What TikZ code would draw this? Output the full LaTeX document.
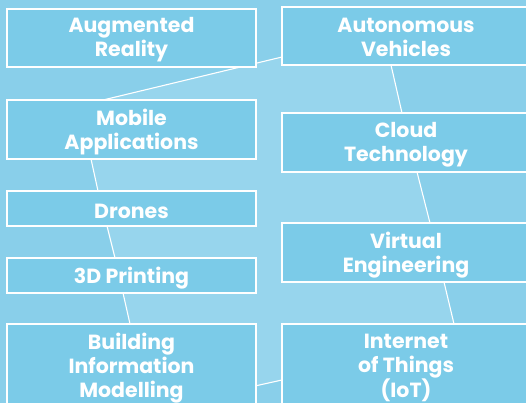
\documentclass[tikz,border=0pt]{standalone}
\usepackage{fontspec}
\setmainfont{Poppins}
\usetikzlibrary{calc}
\definecolor{bgout}{HTML}{89CFEA}
\definecolor{bgin}{HTML}{97D5ED}
\definecolor{boxfill}{HTML}{7BCBE8}
\tikzset{
  techbox/.style={draw=white, line width=1.3pt, fill=boxfill, rectangle, inner sep=0pt,
    text=white, align=center, font=\fontsize{20.5}{24}\selectfont\bfseries},
  link/.style={draw=white, line width=1.1pt}
}
\begin{document}
\begin{tikzpicture}[x=1pt,y=-1pt]
\useasboundingbox (0,0) rectangle (526,403);
\clip (0,0) rectangle (526,403);
\fill[bgout] (0,0) rectangle (526,403);
% connector end points
\coordinate (p1) at (103,100);
\coordinate (p2) at (282,57);
\coordinate (p3) at (391,65);
\coordinate (p4) at (402,113);
\coordinate (p5) at (417,172);
\coordinate (p6) at (430,223);
\coordinate (p7) at (444,282);
\coordinate (p8) at (454,324);
\coordinate (p9) at (282,380);
\coordinate (p10) at (255,386);
\coordinate (p11) at (130,324);
\coordinate (p12) at (123,293);
\coordinate (p13) at (115,258);
\coordinate (p14) at (107,226);
\coordinate (p15) at (98,191);
\coordinate (p16) at (91,159);
\fill[bgin] (p1) -- (p2) -- (p3) -- (p4) -- (p5) -- (p6) -- (p7) -- (p8) -- (454,380) -- (p9) -- (p10) -- (130,386) -- (p11) -- (p12) -- (p13) -- (p14) -- (p15) -- (p16) -- (91,100) -- cycle;
\draw[link] (p1) -- (p2);
\draw[link] (p3) -- (p4);
\draw[link] (p5) -- (p6);
\draw[link] (p7) -- (p8);
\draw[link] (p9) -- (p10);
\draw[link] (p11) -- (p12);
\draw[link] (p13) -- (p14);
\draw[link] (p15) -- (p16);
% boxes
\node[techbox, minimum width=249pt, minimum height=58pt] (ar) at (131.5,38) {};
\node[techbox, minimum width=249pt, minimum height=59pt] (ma) at (131.5,129.5) {};
\node[techbox, minimum width=249pt, minimum height=35pt] (dr) at (131.5,208.5) {};
\node[techbox, minimum width=249pt, minimum height=35pt] (dp) at (131.5,275.5) {};
\node[techbox, minimum width=249pt, minimum height=88pt] (bim) at (131.5,368) {};
\node[techbox, minimum width=248pt, minimum height=58pt] (av) at (406,36) {};
\node[techbox, minimum width=248pt, minimum height=59pt] (ct) at (406,142.5) {};
\node[techbox, minimum width=248pt, minimum height=59pt] (ve) at (406,252.5) {};
\node[techbox, minimum width=248pt, minimum height=88pt] (iot) at (406,368) {};
% labels
\tikzset{lbl/.style={text=white, align=center, inner sep=0pt, font=\fontsize{20.5}{24}\selectfont\bfseries}}
\node[lbl] (tar) at (131.5,39.5) {Augmented\\Reality};
\node[lbl] (tma) at (131.5,132) {Mobile\\Applications};
\node[lbl] (tdr) at (131.5,211) {Drones};
\node[lbl] (tdp) at (131.5,278) {3D Printing};
\node[lbl] (tbim) at (131.5,368) {Building\\Information\\Modelling};
\node[lbl] (tav) at (406,37.5) {Autonomous\\Vehicles};
\node[lbl] (tct) at (406,145) {Cloud\\Technology};
\node[lbl] (tve) at (406,255.5) {Virtual\\Engineering};
\node[lbl] (tiot) at (406,368) {Internet\\of Things\\(IoT)};
\end{tikzpicture}
\end{document}
